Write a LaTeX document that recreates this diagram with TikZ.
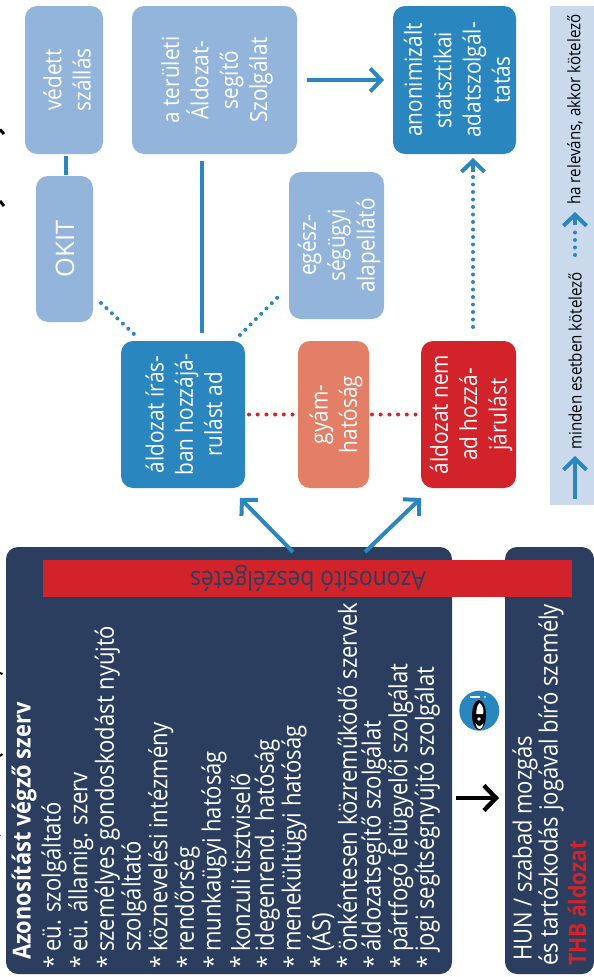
\documentclass[tikz,border=0pt]{standalone}
\usepackage{fontspec}
\setmainfont{Open Sans}
\newfontfamily\narrowf[FakeStretch=0.88]{Open Sans}
\usetikzlibrary{arrows.meta}
\definecolor{lightblue}{HTML}{94B5DB}
\definecolor{midblue}{HTML}{2A86BF}
\definecolor{darkblue}{HTML}{2B3E60}
\definecolor{redc}{HTML}{D2232A}
\definecolor{salmon}{HTML}{E37F66}
\definecolor{legendbg}{HTML}{CBD9EC}
\tikzset{
  x=1pt,y=-1pt,
  lab/.style={rotate=90,align=center,text=white,font=\narrowf\fontsize{23.6}{29.3}\selectfont,inner sep=0pt},
  side/.style={rotate=90,align=left,anchor=west,text=white,font=\narrowf\fontsize{25}{27}\selectfont,inner sep=0pt},
  conn/.style={midblue,line width=4pt},
  chev/.style={-{Straight Barb[length=11pt,width=23pt,line width=4pt]}},
  dots/.style={midblue,line width=4pt,line cap=round,dash pattern=on 0pt off 7.5pt},
  rdots/.style={redc,line width=4pt,line cap=round,dash pattern=on 0pt off 8.7pt},
  legt/.style={rotate=90,text=black,font=\narrowf\fontsize{17.2}{20}\selectfont,inner sep=0pt},
}
\begin{document}
\begin{tikzpicture}
\useasboundingbox (0,0) rectangle (594,977);
\fill[white] (0,0) rectangle (594,977);
% boxes
\fill[lightblue,rounded corners=12pt] (25,6) rectangle (103,154);
\fill[lightblue,rounded corners=12pt] (132,6) rectangle (297,154);
\fill[lightblue,rounded corners=12pt] (36,176) rectangle (93,322);
\fill[lightblue,rounded corners=12pt] (289,172) rectangle (384,319);
\fill[midblue,rounded corners=12pt] (121,341) rectangle (245,488);
\fill[salmon,rounded corners=12pt] (298,341) rectangle (369,488);
\fill[redc,rounded corners=12pt] (421,341) rectangle (516,488);
\fill[midblue,rounded corners=12pt] (393,6) rectangle (516,154);
\fill[legendbg] (550,6) rectangle (594,505);
\fill[darkblue,rounded corners=12pt] (6,547) rectangle (452,974);
\fill[darkblue,rounded corners=12pt] (505,547) rectangle (594,974);
\fill[redc] (43,560) rectangle (572,597);
% labels
\node[lab] (vedett) at (67,80) {védett\\szállás};
\node[lab] (terulet) at (217,80) {a területi\\Áldozat-\\segítő\\Szolgálat};
\node[lab,font=\fontsize{25.5}{30}\selectfont] (okit) at (65,249) {OKIT};
\node[lab] (eges) at (339,245.5) {egész-\\ségügyi\\alapellátó};
\node[lab] (irasban) at (184,414.5) {áldozat írás-\\ban hozzájá-\\rulást ad};
\node[lab] (gyam) at (336,414.5) {gyám-\\hatóság};
\node[lab] (nem) at (471,414.5) {áldozat nem\\ad hozzá-\\járulást};
\node[lab] (anon) at (457,80) {anonimizált\\statsztikai\\adatszolgál-\\tatás};
\node[rotate=180,text=darkblue,font=\narrowf\fontsize{26}{28}\selectfont,inner sep=0pt] (band) at (308,578) {Azonosító beszélgetés};
% list
\node[side,font=\narrowf\bfseries\fontsize{24.8}{27}\selectfont] (head) at (24,960) {Azonosítást végző szerv};
\foreach \yy/\tt in {
 54/{eü. szolgáltató},
 80.7/{eü. államig. szerv},
 107.4/{személyes gondoskodást nyújtó},
 134/{szolgáltató},
 160.7/{köznevelési intézmény},
 187.4/{rendőrség},
 214/{munkaügyi hatóság},
 240.7/{konzuli tisztviselő},
 267.4/{idegenrend. hatóság},
 294/{menekültügyi hatóság},
 320.7/{(ÁS)},
 347.4/{önkéntesen közreműködő szervek},
 374/{áldozatsegítő szolgálat},
 400.7/{pártfogó felügyelői szolgálat},
 427.4/{jogi segítségnyújtó szolgálat}}
 {\node[side] at (\yy,952) {\tt};}
\foreach \yy in {52.3,79,105.7,159,185.7,212.3,239,265.7,292.3,319,345.7,372.3,399,425.7}
 {\node[rotate=90,text=white,font=\fontsize{23}{23}\selectfont,inner sep=0pt] at (\yy,962) {*};}
\node[side] (hun) at (525,961) {HUN / szabad mozgás};
\node[side] (es) at (551,966) {és tartózkodás jogával bíró személy};
\node[side,text=redc,font=\narrowf\bfseries\fontsize{24}{26}\selectfont] (thb) at (577,966) {THB áldozat};
% legend text
\node[legt,anchor=west] (l1) at (575,450) {minden esetben kötelező};
\node[legt,anchor=west] (l2) at (575,205) {ha releváns, akkor kötelező};
% connectors
\coordinate (a1) at (293,552); \coordinate (a2) at (240,498);
\coordinate (b1) at (365,552); \coordinate (b2) at (421,498);
\draw[conn,chev] (a1) -- (a2);
\draw[conn,chev] (b1) -- (b2);
\draw[conn] (66,155.5) -- (66,174.5);
\draw[conn] (202,161) -- (202,333);
\draw[conn,chev] (307,80) -- (384,80);
\draw[dots] (473,327) -- (473,168);
\draw[conn,chev] (473,172) -- (473,158);
\draw[dots] (101,303) -- (135,335);
\draw[dots] (240,335) -- (282,293);
\draw[rdots] (249,414.5) -- (297,414.5);
\draw[rdots] (372,414.5) -- (420,414.5);
\draw[black,line width=4pt,-{Straight Barb[length=12pt,width=25pt,line width=4.4pt]}] (456,798) -- (499,798);
% legend arrows
\draw[conn,chev] (575,499) -- (575,456);
\draw[dots] (575,255) -- (575,225);
\draw[conn,chev] (575,225) -- (575,212);
% eye
\fill[midblue] (479.3,710.7) circle (20);
\fill[black] (479,715) ellipse (7 and 15);
\fill[white] (479.8,703) .. controls (483.5,706) and (484,711) .. (483,714) -- (476.5,714) .. controls (476,710) and (477,705) .. (479.8,703) -- cycle;
\fill[white] (475.5,723) .. controls (477.5,727) and (481.5,727) .. (483.5,723) .. controls (483.5,726) and (481.5,729) .. (479.5,729) .. controls (477.5,729) and (475.5,726) .. (475.5,723) -- cycle;
\fill[white] (479,719) circle (1.8);
\fill[white] (470,696) rectangle (480,697.6);
\fill[white] (485,696.8) circle (1);
% cut-off marks at the left edge
\draw[black,line width=3pt] (0,129.5) -- (4,134);
\draw[black,line width=3pt] (0,201) -- (4,206);
\draw[black,line width=2pt] (0,673) -- (2.5,674);
\draw[black,line width=2pt] (0,756) -- (2.5,754);
\draw[black!60,line width=1pt] (0,835) -- (1,835);
\end{tikzpicture}
\end{document}
